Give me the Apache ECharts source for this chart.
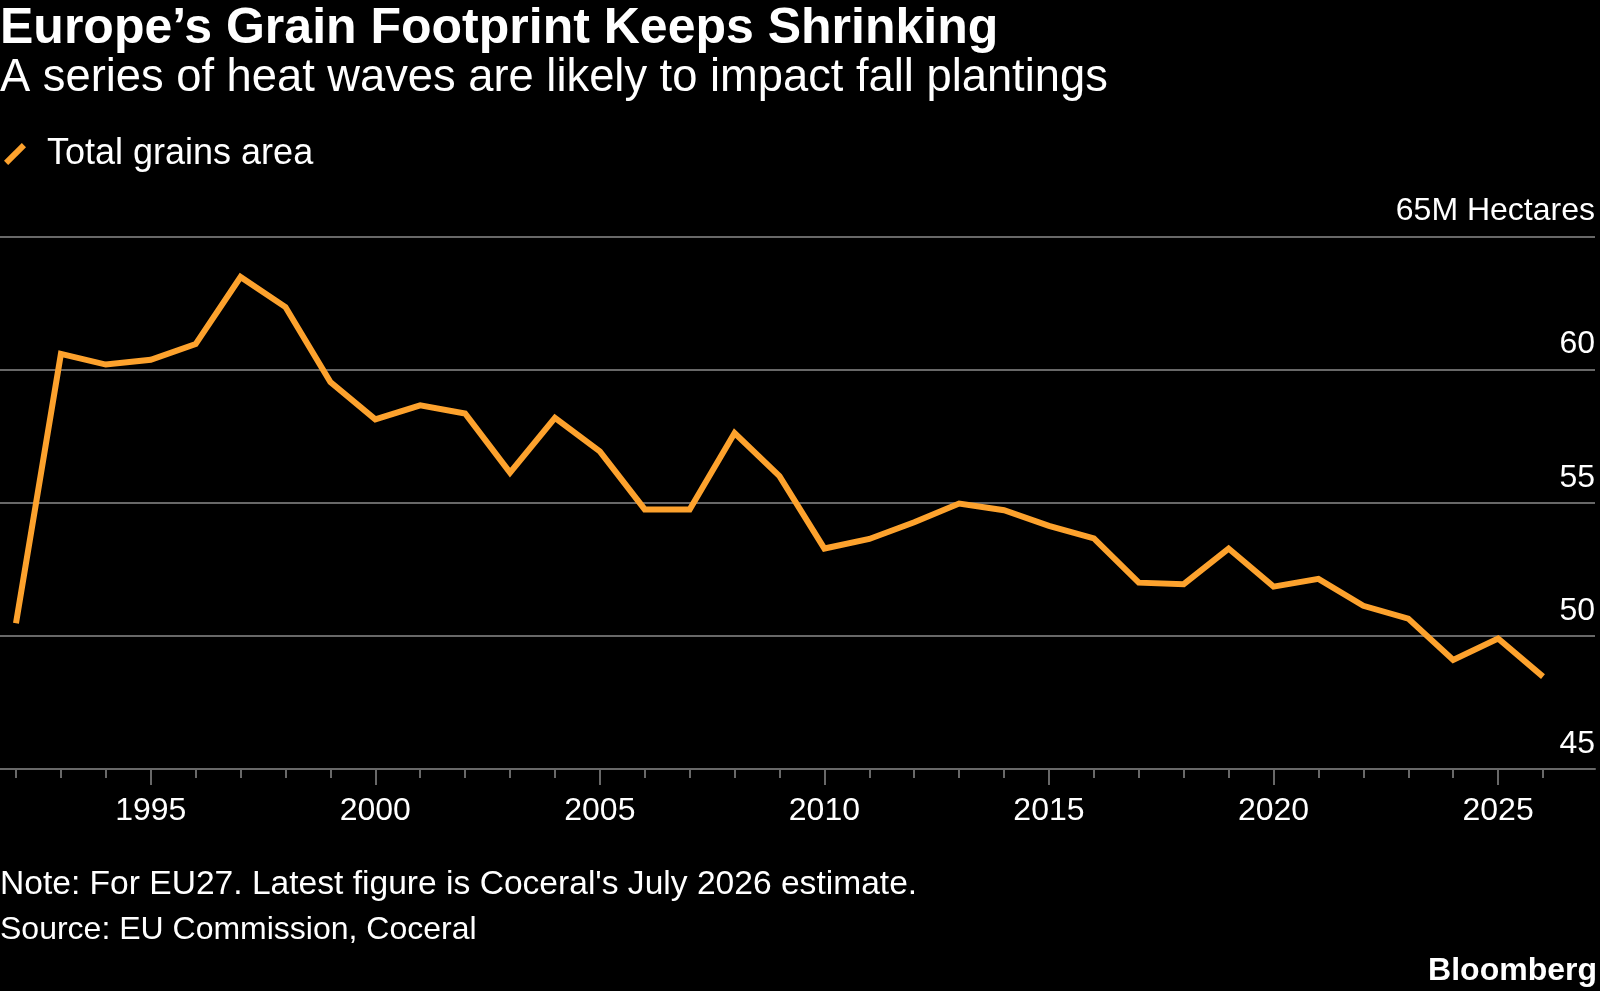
<!DOCTYPE html>
<html>
<head>
<meta charset="utf-8">
<script src="https://cdn.jsdelivr.net/npm/echarts@6/dist/echarts.min.js"></script>
<style>
  html, body { margin: 0; padding: 0; background: #000; }
  #chart { width: 1600px; height: 991px; }
</style>
</head>
<body>
<div id="chart"></div>
<script>
// ---- data ----
const years = [1992, 1993, 1994, 1995, 1996, 1997, 1998, 1999, 2000, 2001, 2002, 2003, 2004, 2005,
  2006, 2007, 2008, 2009, 2010, 2011, 2012, 2013, 2014, 2015, 2016, 2017, 2018, 2019, 2020,
  2021, 2022, 2023, 2024, 2025, 2026];
const grainArea = [50.47, 60.59, 60.19, 60.37, 60.96, 63.48, 62.35, 59.53, 58.13, 58.66, 58.35, 56.13,
  58.19, 56.93, 54.75, 54.75, 57.62, 56.0, 53.28, 53.64, 54.27, 54.97, 54.72, 54.13, 53.66,
  52.0, 51.94, 53.28, 51.85, 52.14, 51.13, 50.65, 49.1, 49.9, 48.47];
const seriesName = 'Total grains area';
const labelYears = [1995, 2000, 2005, 2010, 2015, 2020, 2025];
const yTicks = [45, 50, 55, 60, 65];
const yUnit = 'M Hectares';
const titleText = 'Europe\u2019s Grain Footprint Keeps Shrinking';
const subtitleText = 'A series of heat waves are likely to impact fall plantings';
const noteText = "Note: For EU27. Latest figure is Coceral's July 2026 estimate.";
const sourceText = 'Source: EU Commission, Coceral';
const brandText = 'Bloomberg';

// ---- chart ----
const FONT = '"Liberation Sans", Arial, sans-serif';
const GRID_COLOR = '#686868';
const ORANGE = '#fda22d';
const minorYears = years.filter(y => labelYears.indexOf(y) < 0);
const xMin = 1991.644, xMax = 2027.158;

const chart = echarts.init(document.getElementById('chart'), null, { renderer: 'canvas' });
const option = {
  backgroundColor: '#000',
  animation: false,
  textStyle: { fontFamily: FONT },
  legend: {
    show: true,
    left: 4,
    top: 136,
    padding: 0,
    itemWidth: 22,
    itemHeight: 22,
    icon: 'path://M0,17 L17,0 L21,4 L4,21 Z',
    data: [seriesName],
    selectedMode: false,
    textStyle: { color: '#fff', fontSize: 36, fontFamily: FONT, padding: [0, 0, 0, 16] }
  },
  grid: { left: 0, right: 5, top: 236.5, bottom: 222, containLabel: false },
  xAxis: [
    {
      type: 'value', position: 'bottom', min: xMin, max: xMax,
      axisLine: { show: true, lineStyle: { color: GRID_COLOR, width: 2 } },
      axisTick: { show: true, customValues: minorYears, length: 9, lineStyle: { color: GRID_COLOR, width: 2 } },
      axisLabel: { show: false },
      splitLine: { show: false }
    },
    {
      type: 'value', position: 'bottom', min: xMin, max: xMax,
      axisLine: { show: false },
      axisTick: { show: true, customValues: labelYears, length: 16, lineStyle: { color: GRID_COLOR, width: 2 } },
      axisLabel: {
        show: true, customValues: labelYears, color: '#fff', fontSize: 32, fontFamily: FONT, margin: 26,
        formatter: v => String(v)
      },
      splitLine: { show: false }
    }
  ],
  yAxis: {
    type: 'value', position: 'right', min: yTicks[0], max: yTicks[yTicks.length - 1], interval: 5,
    axisLine: { show: false },
    axisTick: { show: false },
    axisLabel: {
      inside: true, margin: 0, color: '#fff', fontSize: 32, fontFamily: FONT,
      verticalAlign: 'bottom', padding: [0, 0, 9, 0],
      formatter: v => (v === yTicks[yTicks.length - 1] ? v + yUnit : String(v))
    },
    splitLine: { show: true, lineStyle: { color: GRID_COLOR, width: 2 } }
  },
  series: [{
    name: seriesName,
    type: 'line',
    xAxisIndex: 0,
    data: years.map((y, i) => [y, grainArea[i]]),
    symbol: 'none',
    lineStyle: { color: ORANGE, width: 6, join: 'miter' },
    itemStyle: { color: ORANGE }
  }],
  graphic: [
    { type: 'text', left: 0, top: 4, style: { text: titleText, fill: '#fff', font: 'bold 50px ' + FONT } },
    { type: 'text', left: 0, top: 56, style: { text: subtitleText, fill: '#fff', font: '45.3px ' + FONT } },
    { type: 'text', left: 0, top: 868, style: { text: noteText, fill: '#fff', font: '33.6px ' + FONT } },
    { type: 'text', left: 0, top: 914, style: { text: sourceText, fill: '#fff', font: '32px ' + FONT } },
    { type: 'text', right: 3, top: 955, style: { text: brandText, fill: '#fff', font: 'bold 32px ' + FONT } }
  ]
};
chart.setOption(option);
</script>
</body>
</html>
